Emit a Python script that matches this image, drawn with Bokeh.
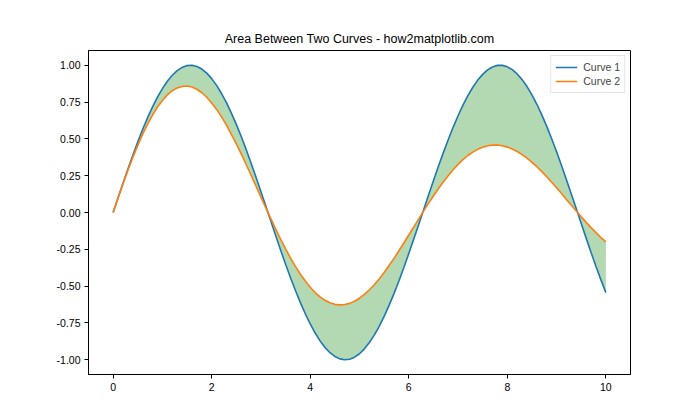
from bokeh.plotting import figure
from bokeh.models import FixedTicker, NumeralTickFormatter, Legend, LegendItem
from bokeh.embed import file_html
from bokeh.resources import INLINE

x = [0.0, 0.1, 0.2, 0.3, 0.4, 0.5, 0.6, 0.7, 0.8, 0.9,
     1.0, 1.1, 1.2, 1.3, 1.4, 1.5, 1.6, 1.7, 1.8, 1.9,
     2.0, 2.1, 2.2, 2.3, 2.4, 2.5, 2.6, 2.7, 2.8, 2.9,
     3.0, 3.1, 3.2, 3.3, 3.4, 3.5, 3.6, 3.7, 3.8, 3.9,
     4.0, 4.1, 4.2, 4.3, 4.4, 4.5, 4.6, 4.7, 4.8, 4.9,
     5.0, 5.1, 5.2, 5.3, 5.4, 5.5, 5.6, 5.7, 5.8, 5.9,
     6.0, 6.1, 6.2, 6.3, 6.4, 6.5, 6.6, 6.7, 6.8, 6.9,
     7.0, 7.1, 7.2, 7.3, 7.4, 7.5, 7.6, 7.7, 7.8, 7.9,
     8.0, 8.1, 8.2, 8.3, 8.4, 8.5, 8.6, 8.7, 8.8, 8.9,
     9.0, 9.1, 9.2, 9.3, 9.4, 9.5, 9.6, 9.7, 9.8, 9.9, 10.0]
curve1 = [0.0, 0.0998, 0.199, 0.2955, 0.389, 0.4794, 0.565, 0.6442, 0.717, 0.7833,
          0.841, 0.8912, 0.932, 0.9636, 0.985, 0.9975, 1.0, 0.9917, 0.974, 0.9463,
          0.909, 0.8632, 0.808, 0.7457, 0.675, 0.5985, 0.516, 0.4274, 0.335, 0.2392,
          0.141, 0.0416, -0.058, -0.1577, -0.256, -0.3508, -0.443, -0.5298, -0.612, -0.6878,
          -0.757, -0.8183, -0.872, -0.9162, -0.952, -0.9775, -0.994, -0.9999, -0.996, -0.9825,
          -0.959, -0.9258, -0.883, -0.8323, -0.773, -0.7055, -0.631, -0.5507, -0.465, -0.3739,
          -0.279, -0.1822, -0.083, 0.0168, 0.117, 0.2151, 0.312, 0.4048, 0.494, 0.5784,
          0.657, 0.729, 0.794, 0.8504, 0.899, 0.938, 0.968, 0.9882, 0.999, 0.9989,
          0.989, 0.9699, 0.941, 0.9022, 0.855, 0.7985, 0.735, 0.663, 0.585, 0.501,
          0.412, 0.3195, 0.223, 0.1245, 0.025, -0.0752, -0.174, -0.2718, -0.366, -0.4575, -0.544]
curve2 = [0.0, 0.0988, 0.195, 0.2866, 0.374, 0.4559, 0.532, 0.6004, 0.662, 0.7159,
          0.761, 0.7985, 0.827, 0.846, 0.856, 0.8588, 0.852, 0.837, 0.813, 0.7826,
          0.744, 0.7001, 0.649, 0.5928, 0.531, 0.4662, 0.398, 0.3261, 0.253, 0.1789,
          0.104, 0.0305, -0.042, -0.1134, -0.182, -0.2473, -0.309, -0.3661, -0.419, -0.4656,
          -0.507, -0.5434, -0.573, -0.5964, -0.613, -0.6237, -0.627, -0.6249, -0.617, -0.6023,
          -0.582, -0.5555, -0.525, -0.4902, -0.451, -0.4071, -0.360, -0.3117, -0.260, -0.2071,
          -0.153, -0.0989, -0.045, 0.009, 0.062, 0.1123, 0.161, 0.2073, 0.250, 0.2904,
          0.327, 0.3587, 0.387, 0.4099, 0.429, 0.4427, 0.453, 0.4575, 0.458, 0.4535,
          0.444, 0.4316, 0.414, 0.3934, 0.369, 0.341, 0.311, 0.2778, 0.243, 0.2059,
          0.168, 0.1288, 0.089, 0.0492, 0.010, -0.0291, -0.067, -0.103, -0.137, -0.1702, -0.200]
x_ticks = [0, 2, 4, 6, 8, 10]
y_ticks = [-1.0, -0.75, -0.5, -0.25, 0.0, 0.25, 0.5, 0.75, 1.0]

FONT = "Liberation Sans"

p = figure(width=684, height=404, output_backend="svg", toolbar_location=None,
           x_range=(-0.5, 10.5), y_range=(-1.1, 1.1),
           min_border_left=88, min_border_right=54, min_border_top=50, min_border_bottom=30,
           title="Area Between Two Curves - how2matplotlib.com")
p.title.align = "center"
p.title.text_font = FONT
p.title.text_font_size = "12.5px"
p.title.text_font_style = "normal"
p.title.text_color = "#000000"

p.grid.visible = False
p.outline_line_color = "#000000"
p.outline_line_width = 1
p.outline_line_alpha = 1

for ax in (p.xaxis, p.yaxis):
    ax.axis_line_color = "#000000"
    ax.major_tick_line_color = "#000000"
    ax.major_tick_out = 4
    ax.major_tick_in = 0
    ax.minor_tick_line_color = None
    ax.major_label_text_font = FONT
    ax.major_label_text_font_size = "10.5px"
    ax.major_label_text_color = "#000000"
    ax.major_label_standoff = 4

p.xaxis.ticker = FixedTicker(ticks=x_ticks)
p.yaxis.ticker = FixedTicker(ticks=y_ticks)
p.yaxis.formatter = NumeralTickFormatter(format="0.00")

p.varea(x=x, y1=curve1, y2=curve2, fill_color="#008000", fill_alpha=0.3)
r1 = p.line(x, curve1, line_color="#1f77b4", line_width=1.6)
r2 = p.line(x, curve2, line_color="#ff7f0e", line_width=1.6)

legend = Legend(items=[LegendItem(label="Curve 1", renderers=[r1]),
                       LegendItem(label="Curve 2", renderers=[r2])],
                location="top_right")
legend.margin = 5
legend.padding = 4
legend.spacing = 0
legend.glyph_width = 22
legend.glyph_height = 14
legend.label_text_font = FONT
legend.label_text_font_size = "10.5px"
legend.label_standoff = 6
legend.label_height = 14
legend.border_line_color = "#cccccc"
legend.border_line_width = 1
legend.background_fill_alpha = 0.8
p.add_layout(legend)

open("out.html", "w").write(file_html(p, INLINE))
